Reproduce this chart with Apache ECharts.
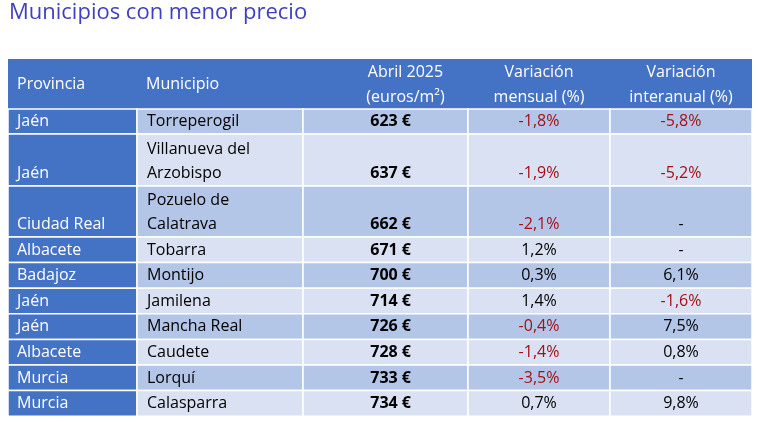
<!DOCTYPE html>
<html><head><meta charset="utf-8">
<script src="https://cdn.jsdelivr.net/npm/echarts@6/dist/echarts.min.js"></script>
<style>html,body{margin:0;padding:0;background:#fff}#main{width:758px;height:422px}</style>
</head><body><div id="main"></div>
<script>
var headers = ['Provincia', 'Municipio', 'Abril 2025\n(euros/m²)', 'Variación\nmensual (%)', 'Variación\ninteranual (%)'];
var provincias = ['Jaén', 'Jaén', 'Ciudad Real', 'Albacete', 'Badajoz', 'Jaén', 'Jaén', 'Albacete', 'Murcia', 'Murcia'];
var municipios = ['Torreperogil', 'Villanueva del\nArzobispo', 'Pozuelo de\nCalatrava', 'Tobarra', 'Montijo', 'Jamilena', 'Mancha Real', 'Caudete', 'Lorquí', 'Calasparra'];
var precios = [623, 637, 662, 671, 700, 714, 726, 728, 733, 734];
var mensual = [-1.8, -1.9, -2.1, 1.2, 0.3, 1.4, -0.4, -1.4, -3.5, 0.7];
var interanual = [-5.8, -5.2, null, null, 6.1, -1.6, 7.5, 0.8, null, 9.8];

var colX = [8, 137, 303, 468, 610, 752];
var rowH = [25, 52, 51, 25.6, 25.6, 25.6, 25.6, 25.6, 25.6, 25.6];
var headTop = 59, headBottom = 109;
var font = '"Open Sans", "Noto Sans", sans-serif';

function pct(v) {
    if (v === null) return '-';
    return v.toFixed(1).replace('.', ',') + '%';
}

var els = [];
els.push({type: 'text', left: 9, top: 2, style: {text: 'Municipios con menor precio', fill: '#3F3FBF', font: '22px ' + font}});
els.push({type: 'rect', shape: {x: colX[0], y: headTop, width: colX[5] - colX[0], height: headBottom - headTop}, style: {fill: '#4472C4'}});
headers.forEach(function (h, c) {
    var lines = h.split('\n');
    var cy = lines.length == 1 ? 84 : 72;
    var x, align;
    if (c < 2) { x = colX[c] + 9; align = 'left'; } else { x = (colX[c] + colX[c + 1]) / 2 + (c == 2 ? 20 : 0); align = 'center'; }
    lines.forEach(function (l, i) {
        els.push({type: 'text', style: {x: x, y: cy + i * 25, text: l, fill: '#fff', font: '16px ' + font, textAlign: align, textVerticalAlign: 'middle'}});
    });
});

var y = headBottom;
provincias.forEach(function (p, r) {
    var h = rowH[r];
    var bg = r % 2 == 0 ? '#B4C6E7' : '#D9E1F2';
    var vals = [p, municipios[r], precios[r] + ' €', pct(mensual[r]), pct(interanual[r])];
    for (var c = 0; c < 5; c++) {
        els.push({type: 'rect', shape: {x: colX[c], y: y, width: colX[c + 1] - colX[c], height: h},
            style: {fill: c == 0 ? '#4472C4' : bg, stroke: '#fff', lineWidth: 1.5}});
        var lines = vals[c].split('\n');
        var x, align, color = '#000', weight = '';
        if (c == 0) { x = colX[0] + 9; align = 'left'; color = '#fff'; }
        else if (c == 1) { x = colX[1] + 10; align = 'left'; }
        else if (c == 2) { x = colX[3] - 57; align = 'right'; weight = 'bold '; }
        else {
            x = (colX[c] + colX[c + 1]) / 2; align = 'center';
            var v = c == 3 ? mensual[r] : interanual[r];
            if (v !== null && v < 0) color = '#A50F15';
        }
        var last = y + h - 12.5;
        lines.forEach(function (l, i) {
            els.push({type: 'text', style: {x: x, y: last - (lines.length - 1 - i) * 24, text: l, fill: color,
                font: weight + '16px ' + font, textAlign: align, textVerticalAlign: 'middle'}});
        });
    }
    y += h;
});

var chart = echarts.init(document.getElementById('main'));
chart.setOption({backgroundColor: '#fff', graphic: {elements: els}});
</script></body></html>
